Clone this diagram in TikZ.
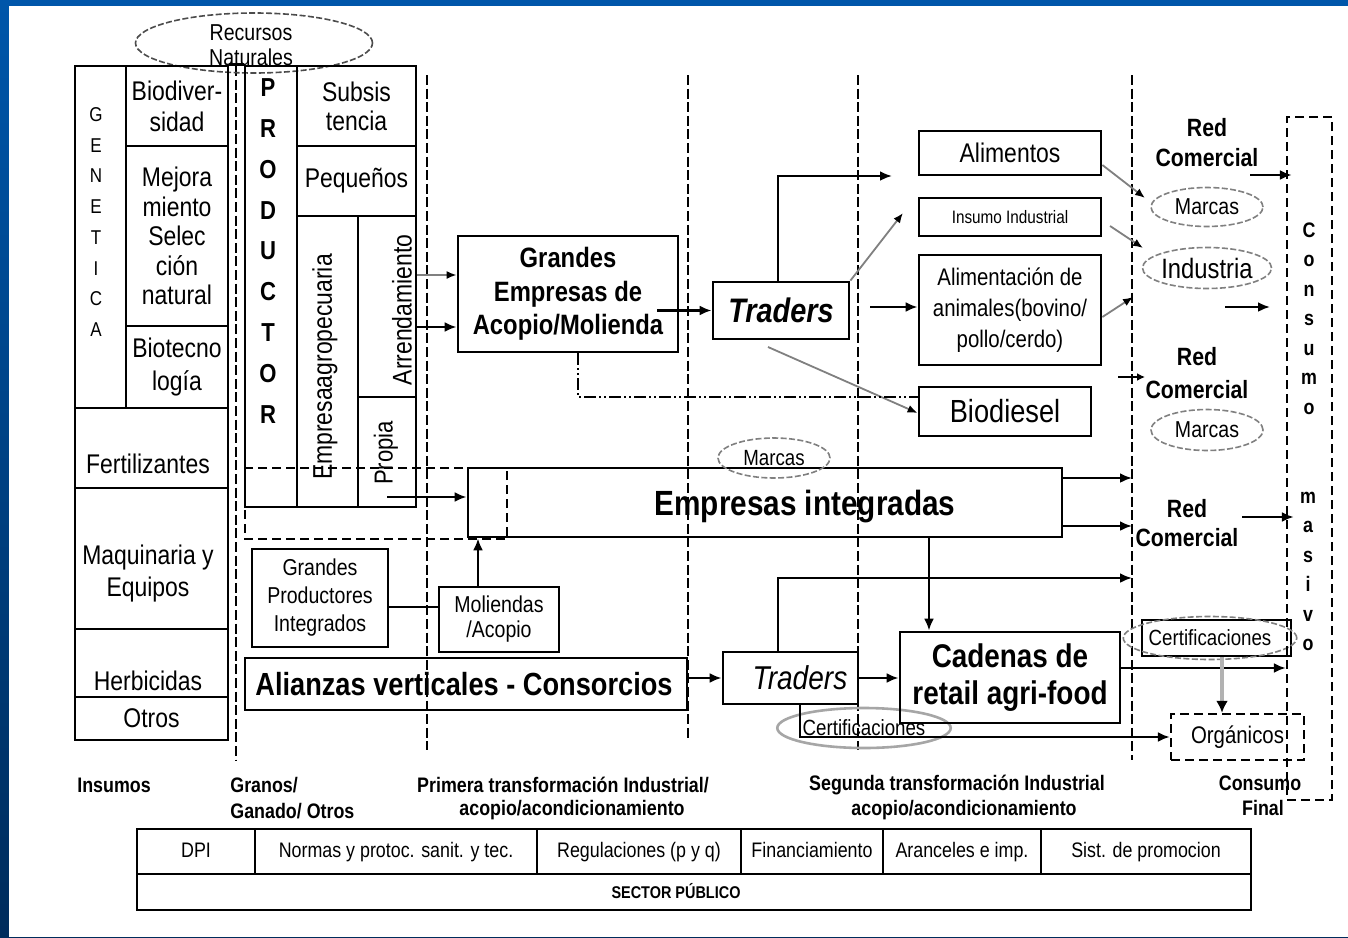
\documentclass[tikz,border=0pt]{standalone}
\usepackage{fontspec}
\setmainfont{Liberation Sans}[FakeStretch=0.85]
\usetikzlibrary{arrows.meta,shapes.geometric}
\newcommand{\fsz}[2]{\fontsize{#1}{#2}\selectfont}
\definecolor{slideblue}{RGB}{0,86,170}
\definecolor{slidedark}{RGB}{0,44,92}
\tikzset{
  box/.style={draw, line width=1.4pt, inner sep=0pt, align=center},
  dbox/.style={draw, line width=1.2pt, dash pattern=on 4.5pt off 2.5pt, inner sep=0pt, align=center},
  sz/.style 2 args={minimum width={(#1)*0.5pt}, minimum height={(#2)*0.5pt}},
  oval/.style={ellipse, draw=gray, line width=0.8pt, dash pattern=on 3pt off 1.2pt, inner sep=0pt},
  txt/.style={align=center, inner sep=0pt},
  divider/.style={line width=1.2pt, dash pattern=on 5pt off 1.8pt},
  link/.style={line width=1.2pt, -{Latex[length=6pt,width=5pt]}},
  glink/.style={line width=0.9pt, draw=gray, -{Latex[length=5pt,width=4pt,black]}},
  ddlink/.style={line width=1.1pt, dash pattern=on 6pt off 1.5pt on 1pt off 1.5pt on 1pt off 1.5pt},
  lbl/.style={txt, font=\bfseries\fsz{10.5}{12.5}},
  cell/.style={box, line width=1.2pt, text height=8pt, text depth=2.5pt},
}
\begin{document}
\begin{tikzpicture}[x=0.5pt,y=-0.5pt]
\useasboundingbox (0,0) rectangle (1348,937);
\fill[top color=slideblue, bottom color=slidedark] (0,0) rectangle (1348,937);
\fill[white] (9,6) rectangle (1348,937);

% etapas
\foreach \x/\a/\b in {236/66/760, 427/75/750, 688/75/740, 858/75/750, 1132/75/760}
  \draw[divider] (\x,\a) -- (\x,\b);

% recursos naturales
\node[oval, draw=gray!60!black, sz={237}{60}] (rec) at (254,43) {};
\node[txt, font=\fsz{11.5}{12.5}] at (251,45) {Recursos\\Naturales};

% insumos
\node[box, sz={51}{342}] (gen) at (100.5,237) {};
\node[txt, font=\fsz{10}{15.35}] at (96,222) {G\\E\\N\\E\\T\\I\\C\\A};
\node[box, sz={102}{80}, font=\fsz{13.5}{15.5}] (bio) at (177,106) {Biodiver-\\sidad};
\node[box, sz={102}{180}, font=\fsz{13.5}{14.75}] (mej) at (177,236) {Mejora\\miento\\Selec\\ción\\natural};
\node[box, sz={102}{82}, font=\fsz{13.5}{16.5}] (biot) at (177,367) {Biotecno\\logía};
\node[box, sz={153}{80}] (fert) at (151.5,448) {};
\node[txt, font=\fsz{13.5}{16}] at (148,464) {Fertilizantes};
\node[box, sz={153}{141}] (maq) at (151.5,558.5) {};
\node[txt, font=\fsz{13.5}{16}] at (148,574) {Maquinaria y\\Equipos};
\node[box, sz={153}{68}] (herb) at (151.5,663) {};
\node[txt, font=\fsz{13.5}{16}] at (148,681) {Herbicidas};
\node[box, sz={153}{43}, font=\fsz{13.5}{16}] (otros) at (151.5,718.5) {Otros};

% productor
\node[box, sz={52}{441}] (prod) at (271,286.5) {};
\node[txt, font=\bfseries\fsz{13}{20.4}] at (268,251) {P\\R\\O\\D\\U\\C\\T\\O\\R};
\draw[line width=1.4pt] (bio.north east) -- (prod.north west);
\node[box, sz={119}{80}, font=\fsz{13.5}{14.5}] (subs) at (356.5,106) {Subsis\\tencia};
\node[box, sz={119}{70}, font=\fsz{13.5}{16}] (peq) at (356.5,181) {Pequeños};
\node[box, sz={61}{291}] (empag) at (327.5,361.5) {};
\node[txt, rotate=90, font=\fsz{13.5}{16}] at (325,367) {Empresaagropecuaria};
\node[box, sz={58}{181}] (arr) at (387,306.5) {};
\node[txt, rotate=90, font=\fsz{13.5}{16}] at (402,310) {Arrendamiento};
\node[box, sz={58}{110}] (prop) at (387,452) {};
\node[txt, rotate=90, font=\fsz{13}{16}] at (386,453) {Propia};
\draw[dbox] (245,468) rectangle (507,539);

% primera transformacion
\node[box, sz={220}{116}, font=\bfseries\fsz{14}{16.75}] (gem) at (568,294) {Grandes\\Empresas de\\Acopio/Molienda};
\node[box, sz={594}{69}] (empint) at (765,502.5) {};
\node[txt, font=\bfseries\fsz{17.5}{20}] at (805,507) {Empresas integradas};
\node[oval, sz={112}{40}, font=\fsz{11}{12}] (marc3) at (774,458) {Marcas};
\node[box, sz={136}{98}, font=\fsz{11.5}{14}] (gpi) at (320,598) {Grandes\\Productores\\Integrados};
\node[box, sz={120}{65}, font=\fsz{11.5}{12.5}] (mol) at (499,619.5) {Moliendas\\/Acopio};
\node[box, sz={442}{52}] (ali) at (466,684) {};
\node[txt, font=\bfseries\fsz{16}{18}] at (464,684) {Alianzas verticales - Consorcios};

% segunda transformacion
\node[box, sz={136}{57}, font=\bfseries\itshape\fsz{17}{20}] (trad1) at (781,310.5) {Traders};
\node[box, sz={135}{52}] (trad2) at (790.5,678) {};
\node[txt, font=\itshape\fsz{16.5}{18}] at (800,678) {Traders};
\node[oval, solid, draw=gray!70, line width=1.3pt, sz={152}{40}, font=\fsz{11}{12}] (certl) at (864,728) {Certificaciones};
\node[box, sz={182}{44}, font=\fsz{13.5}{16}] (alim) at (1010,153) {Alimentos};
\node[box, sz={182}{38}, font=\fsz{9}{11}] (insind) at (1010,217) {Insumo Industrial};
\node[box, sz={182}{110}, font=\fsz{12}{15.5}] (alan) at (1010,310) {Alimentación de\\animales(bovino/\\pollo/cerdo)};
\node[box, sz={172}{49}, font=\fsz{16}{18}] (biod) at (1005,411.5) {Biodiesel};
\node[box, sz={220}{91}, font=\bfseries\fsz{16.4}{18.5}] (cad) at (1010,677.5) {Cadenas de\\retail agri-food};

% red comercial y consumo
\node[txt, font=\bfseries\fsz{12.5}{15}] (rc1) at (1207,143) {Red\\Comercial};
\node[oval, sz={112}{39}, font=\fsz{11.5}{13}] (marc1) at (1207,207) {Marcas};
\node[oval, sz={112}{41}, font=\fsz{14}{16}] (indus) at (1207,268) {Industria};
\node[txt, font=\bfseries\fsz{12.5}{16.5}] (rc2) at (1197,373) {Red\\Comercial};
\node[oval, sz={112}{41}, font=\fsz{11.5}{13}] (marc2) at (1207,430) {Marcas};
\node[txt, font=\bfseries\fsz{12.5}{14.5}] (rc3) at (1187,523) {Red\\Comercial};
\node[box, sz={149}{36}] (certr) at (1216.5,638) {};
\node[oval, sz={160}{43}, font=\fsz{11}{12}] (certro) at (1210,638) {Certificaciones};
\node[dbox, sz={133}{46}, font=\fsz{12}{14}] (org) at (1237.5,737) {Orgánicos};
\node[dbox, sz={45}{683}] (cons) at (1309.5,458.5) {};
\node[txt, font=\bfseries\fsz{10.5}{14.75}] at (1309,318.5) {C\\o\\n\\s\\u\\m\\o};
\node[txt, font=\bfseries\fsz{10.5}{14.7}] at (1308,571.5) {m\\a\\s\\i\\v\\o};

% free ends
\coordinate (toalim) at (892,176);
\coordinate (toins) at (903,213);
\coordinate (fromtr) at (870,307);
\coordinate (trlow) at (768,347);
\coordinate (tomarc) at (1145,198);
\coordinate (insout) at (1110,226);
\coordinate (toind) at (1143,248);
\coordinate (toanim) at (1133,297);
\coordinate (rcout) at (1250,175);
\coordinate (indout) at (1225,307);
\coordinate (indend) at (1270,307);
\coordinate (rc2in) at (1118,377);
\coordinate (rc2end) at (1145,377);
\coordinate (rc3out) at (1242,517);

% flujos
\draw[glink] (arr.east |- 0,275) -- (gem.west |- 0,275);
\draw[link] (arr.east |- 0,327) -- (gem.west |- 0,327);
\draw[link] (prop.center |- 0,497) -- (empint.west |- 0,497);
\draw[link] (trad1.west -| 657,0) -- (trad1.west);
\draw[link] (trad1.north -| 778,0) |- (toalim);
\draw[glink] (trad1.north east) -- (toins);
\draw[link] (fromtr) -- (alan.west |- fromtr);
\draw[glink] (trlow) -- (biod.west |- 0,413);
\draw[ddlink] (gem.south -| 578,0) |- (biod.west |- 0,397);
\draw[glink] (alim.east |- 0,165) -- (tomarc);
\draw[glink] (insout) -- (toind);
\draw[glink] (alan.east |- 0,317) -- (toanim);
\draw[link, shorten >=-3pt] (rcout) -- (cons.west |- rcout);
\draw[link] (indout) -- (indend);
\draw[link, -{Latex[length=4pt,width=4pt]}] (rc2in) -- (rc2end);
\draw[link] (empint.east |- 0,478) -- (1132,478);
\draw[link] (empint.east |- 0,526) -- (1132,526);
\draw[link, shorten >=-4pt] (rc3out) -- (cons.west |- rc3out);
\draw[link] (trad2.north -| 778,0) |- (1132,578);
\draw[link] (empint.south -| 929,0) -- (cad.north -| 929,0);
\draw[link] (ali.east |- trad2.west) -- (trad2.west);
\draw[link] (trad2.east) -- (cad.west |- trad2.east);
\draw[link] (cad.east |- 0,668) -- (cons.west |- 0,668);
\draw[line width=2.2pt, gray!60, -{Latex[length=6pt,width=6pt,black]}] (certr.south -| 1222,0) -- (org.north -| 1222,0);
\draw[link] (trad2.south -| 800,0) |- (org.west);
\draw[line width=1.2pt] (gpi.east |- 0,607) -- (mol.west |- 0,607);
\draw[link] (mol.north -| 478,0) -- (empint.south -| 478,0);

% etiquetas de etapas
\node[lbl] at (114,785) {Insumos};
\node[lbl, anchor=west] at (230,785) {Granos/};
\node[lbl, anchor=west] at (230,811) {Ganado/ Otros};
\node[lbl] at (563,785) {Primera transformación Industrial/};
\node[lbl] at (572,810) {acopio/acondicionamiento};
\node[lbl] at (957,785) {Segunda transformación Industrial};
\node[lbl] at (964,810) {acopio/acondicionamiento};
\node[lbl] at (1260,783) {Consumo};
\node[lbl] at (1263,808) {Final};

% sector publico
\foreach \a/\b/\t [count=\i] in {137/255/DPI, 255/537/Normas y protoc. sanit. y tec., 537/741/Regulaciones (p y q), 741/883/Financiamiento, 883/1041/Aranceles e imp., 1041/1251/Sist. de promocion}
  \node[cell, sz={\b-\a}{45}, font=\fsz{10.5}{12}] (tab\i) at ({(\a+\b)/2},851.5) {\t};
\node[box, line width=1.2pt, sz={1114}{36}] (sector) at (694,892) {};
\node[txt, font=\bfseries\fsz{8.5}{10}] at (676,891) {SECTOR PÚBLICO};
\end{tikzpicture}
\end{document}
